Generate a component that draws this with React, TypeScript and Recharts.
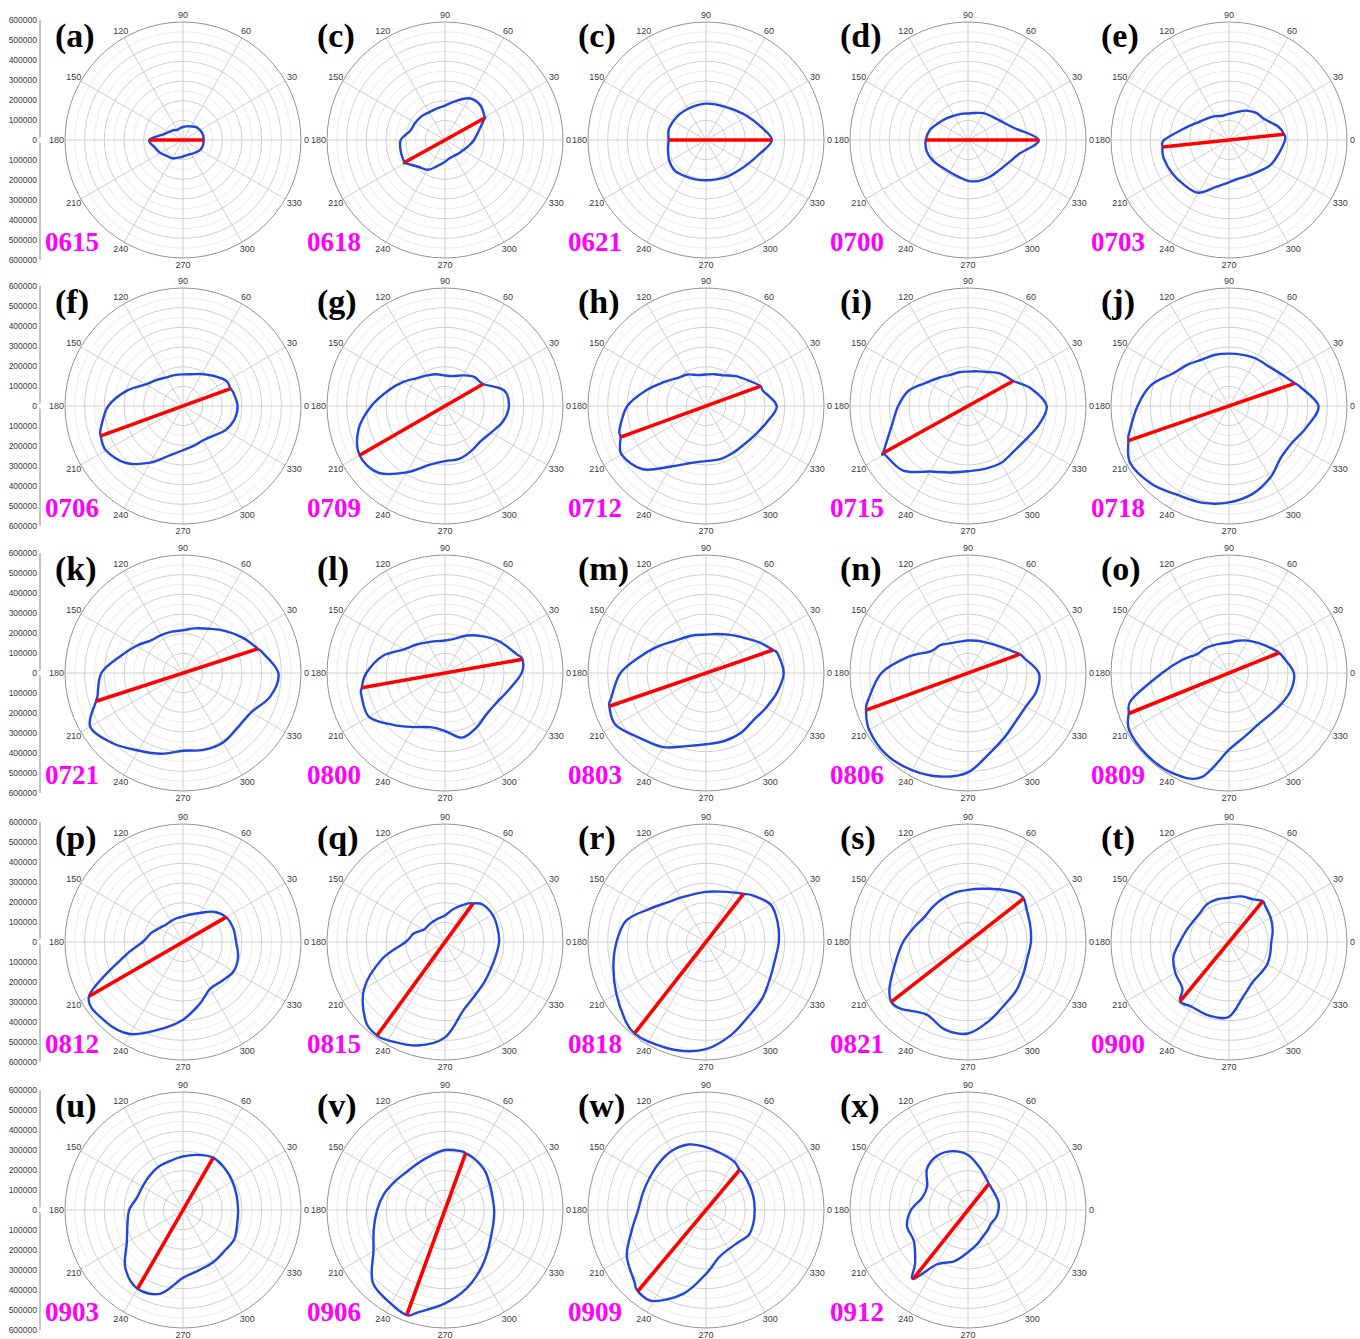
import React from 'react';
import { RadarChart, Radar, PolarGrid, PolarAngleAxis, PolarRadiusAxis, LineChart, Line, YAxis } from 'recharts';

const ANGLES = [0, 15, 30, 45, 60, 75, 90, 105, 120, 135, 150, 165, 180, 195, 210, 225, 240, 255, 270, 285, 300, 315, 330, 345];
const ANGLE_TICKS = [0, 30, 60, 90, 120, 150, 180, 210, 240, 270, 300, 330];
const RADIAL_TICKS = [-600000, -500000, -400000, -300000, -200000, -100000, 0, 100000, 200000, 300000, 400000, 500000, 600000];

const PANEL_LABELS = ['(a)', '(c)', '(c)', '(d)', '(e)', '(f)', '(g)', '(h)', '(i)', '(j)', '(k)', '(l)', '(m)', '(n)', '(o)', '(p)', '(q)', '(r)', '(s)', '(t)', '(u)', '(v)', '(w)', '(x)'];
const DATES = ['0615', '0618', '0621', '0700', '0703', '0706', '0709', '0712', '0715', '0718', '0721', '0800', '0803', '0806', '0809', '0812', '0815', '0818', '0821', '0900', '0903', '0906', '0909', '0912'];

// blue contour radius at every 15 degrees
const FLOW_0615 = [105000, 105000, 100000, 93000, 80000, 72000, 66000, 62000, 60000, 70000, 82000, 107000, 175000, 148000, 133000, 115000, 108000, 93000, 84000, 80000, 82000, 90000, 101000, 105000];
const FLOW_0618 = [147500, 177500, 233000, 252500, 245000, 205000, 175000, 165000, 162500, 170000, 175000, 182500, 225000, 232500, 235000, 192500, 175000, 135000, 110000, 95000, 92500, 97500, 105000, 122500];
const FLOW_0621 = [335000, 282500, 242500, 212500, 195000, 187500, 185000, 182500, 183500, 187500, 191500, 196500, 190000, 200000, 215000, 222500, 212500, 207500, 205000, 207500, 215000, 225000, 245000, 280000];
const FLOW_0700 = [360000, 240000, 192500, 170000, 157500, 142500, 135000, 137500, 142500, 155000, 172500, 200000, 215000, 217500, 207500, 192500, 187500, 192500, 207500, 215000, 217500, 220000, 235000, 270000];
const FLOW_0703 = [285000, 260000, 210000, 195000, 172500, 146500, 132500, 127500, 140000, 155000, 180000, 232500, 330000, 345000, 335000, 322500, 310000, 245000, 215000, 202500, 207500, 222500, 247500, 262500];
const FLOW_0706 = [277500, 265000, 255000, 217500, 187500, 167500, 161000, 162500, 168500, 187500, 220000, 297500, 380000, 432500, 452000, 410000, 332500, 260000, 225000, 210000, 202500, 215000, 247500, 270000];
const FLOW_0709 = [325000, 310000, 230000, 210000, 180000, 157500, 155000, 167500, 180000, 200000, 245000, 300000, 375000, 455000, 500000, 480000, 390000, 310000, 280000, 278500, 265000, 255000, 270000, 305000];
const FLOW_0712 = [360000, 300000, 255000, 215000, 180000, 167500, 160000, 162500, 185000, 202500, 245000, 312500, 400000, 455000, 495000, 455000, 355000, 300000, 280000, 280000, 275000, 275000, 290000, 320000];
const FLOW_0715 = [400000, 335000, 260000, 232500, 200000, 182500, 175000, 177500, 182500, 205000, 240000, 310000, 355000, 402500, 490000, 465000, 385000, 350000, 331500, 331000, 335000, 327500, 340000, 372500];
const FLOW_0718 = [455000, 375000, 315000, 285000, 277500, 269000, 266500, 270000, 273000, 297500, 330000, 410000, 465000, 525000, 580000, 558500, 522500, 510000, 490000, 462500, 420000, 372500, 371500, 410000];
const FLOW_0721 = [485000, 415000, 355000, 302500, 260000, 235000, 217500, 217500, 222500, 233500, 275000, 330000, 415000, 450000, 545000, 505000, 455000, 425000, 395000, 405000, 407500, 392500, 400000, 460000];
const FLOW_0800 = [390000, 375000, 320000, 265000, 220000, 180000, 165000, 167500, 180000, 205000, 240000, 330000, 400000, 440000, 446000, 372500, 317500, 285000, 295000, 340000, 320000, 297500, 302500, 335000];
const FLOW_0803 = [395000, 377500, 312500, 257500, 225000, 205000, 195000, 200000, 210000, 230000, 275000, 340000, 435000, 500000, 530000, 470000, 435000, 385000, 362500, 358000, 352500, 340000, 352500, 375000];
const FLOW_0806 = [360000, 295000, 237500, 200000, 180000, 170000, 165000, 165000, 175000, 200000, 220000, 315000, 440000, 525000, 580000, 587500, 570000, 545000, 505000, 422500, 375000, 345000, 340000, 360000];
const FLOW_0809 = [330000, 290000, 250000, 215000, 190000, 170000, 155000, 155000, 162500, 175000, 190000, 250000, 340000, 510000, 585000, 590000, 585000, 550000, 390000, 330000, 300000, 297500, 310000, 327500];
const FLOW_0812 = [270000, 265000, 253000, 217500, 170000, 145000, 130000, 125000, 122500, 124000, 140000, 170000, 205000, 320000, 550000, 565000, 540000, 460000, 395000, 326500, 275000, 280000, 297500, 290000];
const FLOW_0815 = [275000, 276500, 279000, 270000, 225000, 175000, 135000, 125000, 120000, 120000, 125000, 165000, 200000, 330000, 475000, 570000, 577500, 545000, 485000, 360000, 310000, 285000, 270000, 267500];
const FLOW_0818 = [370000, 377500, 380000, 335000, 290000, 265000, 255000, 251000, 260000, 282500, 335000, 420000, 455000, 487500, 526500, 575000, 585000, 570000, 545000, 490000, 435000, 405000, 375000, 362500];
const FLOW_0821 = [320000, 327500, 342500, 352500, 310000, 280000, 265000, 260000, 255000, 253000, 255000, 285000, 330000, 380000, 460000, 481000, 425000, 460000, 465000, 415000, 370000, 347500, 325000, 312500];
const FLOW_0900 = [215000, 230000, 245000, 260000, 250000, 240000, 225000, 225000, 222500, 208500, 210000, 225000, 250000, 292500, 315000, 335000, 380000, 387500, 380000, 285000, 237500, 226500, 225000, 217500];
const FLOW_0903 = [280000, 282500, 290000, 300000, 307500, 290000, 272500, 257500, 252500, 242500, 237500, 242500, 273500, 292500, 330000, 415000, 462500, 440000, 345000, 316500, 306500, 296500, 300000, 285000];
const FLOW_0906 = [250000, 250000, 262500, 285000, 300000, 310000, 305000, 285000, 275000, 275000, 292500, 320000, 345000, 375000, 420000, 520000, 550000, 540000, 475000, 415000, 355000, 305000, 270000, 255000];
const FLOW_0909 = [247500, 250000, 255000, 265000, 285000, 297500, 320000, 345000, 347500, 337500, 330000, 332500, 345000, 390000, 465000, 515000, 535000, 440000, 325000, 250000, 230000, 232500, 252500, 250000];
const FLOW_0912 = [155000, 160000, 159000, 165000, 185000, 225000, 280000, 310000, 316500, 295000, 240000, 241000, 290000, 321000, 317500, 380000, 320000, 270000, 215000, 180000, 154000, 142500, 136000, 147500];

const FLOWS = [FLOW_0615, FLOW_0618, FLOW_0621, FLOW_0700, FLOW_0703, FLOW_0706, FLOW_0709, FLOW_0712, FLOW_0715, FLOW_0718, FLOW_0721, FLOW_0800, FLOW_0803, FLOW_0806, FLOW_0809, FLOW_0812, FLOW_0815, FLOW_0818, FLOW_0821, FLOW_0900, FLOW_0903, FLOW_0906, FLOW_0909, FLOW_0912];

// red major axis: direction (deg), length toward direction, length toward opposite direction
const MAJOR_ANGLE = [0, 29, 0, 0, 6, 20, 30, 20, 29, 19, 18, 10, 19, 20, 22, 30, 54, 52, 38, 50.5, 60, 70, 50, 51.5];
const MAJOR_R1 = [105000, 231000, 335000, 360000, 281500, 257500, 224000, 295500, 262000, 354000, 400000, 400000, 360000, 280000, 275000, 253000, 243000, 310000, 360000, 270000, 307500, 307500, 266000, 170000];
const MAJOR_R2 = [172000, 236000, 190000, 215000, 340000, 445000, 501500, 462500, 493000, 541000, 465000, 430000, 520000, 552000, 550000, 551500, 588000, 590000, 495000, 391000, 462500, 568500, 539500, 448000];

const COL_X = [183, 445, 706, 968, 1229];
const ROW_Y = [140, 406, 673, 942, 1210];
const R_OUT = 118;
const MAJOR_RADII = [2, 4, 6, 8, 10].map((k) => (R_OUT * k) / 12);
const MINOR_RADII = [1, 3, 5, 7, 9, 11].map((k) => (R_OUT * k) / 12);

type Row = { angle: number; flow: number; major?: number };

function buildRows(i: number): Row[] {
  const a1 = MAJOR_ANGLE[i];
  const a2 = (a1 + 180) % 360;
  const rows: Row[] = [];
  ANGLES.forEach((a, k) => {
    if (Math.abs(a - a1) < 0.5 || Math.abs(a - a2) < 0.5) return;
    rows.push({ angle: a, flow: FLOWS[i][k] });
  });
  rows.push({ angle: a1, flow: MAJOR_R1[i], major: MAJOR_R1[i] });
  rows.push({ angle: a2, flow: MAJOR_R2[i], major: MAJOR_R2[i] });
  rows.sort((p, q) => p.angle - q.angle);
  return rows;
}

function closedSpline(pts: { x: number; y: number }[]): string {
  const n = pts.length;
  if (n < 3) return '';
  let d = `M${pts[0].x},${pts[0].y}`;
  for (let i = 0; i < n; i++) {
    const p0 = pts[(i - 1 + n) % n];
    const p1 = pts[i];
    const p2 = pts[(i + 1) % n];
    const p3 = pts[(i + 2) % n];
    const c1x = p1.x + (p2.x - p0.x) / 6;
    const c1y = p1.y + (p2.y - p0.y) / 6;
    const c2x = p2.x - (p3.x - p1.x) / 6;
    const c2y = p2.y - (p3.y - p1.y) / 6;
    d += ` C${c1x},${c1y} ${c2x},${c2y} ${p2.x},${p2.y}`;
  }
  return d + 'Z';
}

const finitePts = (props: any) =>
  ((props && props.points) || []).filter((p: any) => Number.isFinite(p.x) && Number.isFinite(p.y));

const BlueShape = (props: any) => {
  const pts = finitePts(props);
  return <path d={closedSpline(pts)} fill="none" stroke="#1f45e3" strokeWidth={2.4} strokeLinejoin="round" />;
};

const RedShape = (props: any) => {
  const pts = finitePts(props).filter((p: any) => p.payload && p.payload.major != null);
  if (pts.length < 2) return <g />;
  return <line x1={pts[0].x} y1={pts[0].y} x2={pts[1].x} y2={pts[1].y} stroke="#ff0000" strokeWidth={3.6} />;
};

const LABEL_FONT = 9;
const AngleTick = (props: any) => {
  const { x, y, payload } = props;
  const label = String(payload.value);
  const a = (Number(payload.value) * Math.PI) / 180;
  const c = Math.cos(a);
  const w = label.length * LABEL_FONT * 0.556;
  const h = LABEL_FONT * 0.75;
  const tx = x + (w / 2) * c + (c < -0.1 ? 2 : 0);
  const ty = y - (h / 2 + 1) * Math.sin(a);
  return (
    <text x={tx} y={ty} textAnchor="middle" dominantBaseline="central" fontSize={LABEL_FONT} fill="#3a3a3a" fontFamily="'Liberation Sans', Arial, sans-serif">
      {label}
    </text>
  );
};

const W = 284;
const H = 280;

function Panel({ i }: { i: number }) {
  const cx = COL_X[i % 5];
  const cy = ROW_Y[Math.floor(i / 5)];
  const rows = buildRows(i);
  return (
    <>
      <div style={{ position: 'absolute', left: cx - W / 2, top: cy - H / 2, width: W, height: H }}>
        <RadarChart width={W} height={H} data={rows} cx={W / 2} cy={H / 2} outerRadius={R_OUT} innerRadius={0} startAngle={0} endAngle={360} margin={{ top: 0, right: 0, bottom: 0, left: 0 }}>
          <PolarGrid gridType="circle" polarRadius={MINOR_RADII} polarAngles={[]} radialLines={false} stroke="#ececec" />
          <PolarGrid gridType="circle" polarRadius={MAJOR_RADII} polarAngles={ANGLE_TICKS} stroke="#d0d0d0" />
          <PolarAngleAxis dataKey="angle" type="number" domain={[0, 360]} ticks={ANGLE_TICKS as any} tick={AngleTick} tickLine={false} tickSize={3} axisLineType="circle" axisLine={{ stroke: '#949494' }} />
          <PolarRadiusAxis type="number" domain={[0, 600000]} allowDataOverflow tick={false} axisLine={false} />
          <Radar dataKey="flow" shape={BlueShape} isAnimationActive={false} dot={false} />
          <Radar dataKey="major" shape={RedShape} isAnimationActive={false} dot={false} />
        </RadarChart>
      </div>
      <div style={{ position: 'absolute', left: cx - 128, top: cy - 121, fontFamily: "'Liberation Serif', 'Times New Roman', serif", fontWeight: 'bold', fontSize: 34, lineHeight: 1, color: '#000' }}>
        {PANEL_LABELS[i]}
      </div>
      <div style={{ position: 'absolute', left: cx - 138, top: cy + 89, fontFamily: "'Liberation Serif', 'Times New Roman', serif", fontWeight: 'bold', fontSize: 27, lineHeight: 1, color: '#ff00ff' }}>
        {DATES[i]}
      </div>
    </>
  );
}

function LeftAxis({ cy }: { cy: number }) {
  const h = 2 * 120 + 12;
  return (
    <div style={{ position: 'absolute', left: 0, top: cy - 120 - 6, width: 50, height: h }}>
      <LineChart width={50} height={h} data={[{ y: 0 }]} margin={{ top: 6, right: 6, bottom: 6, left: 0 }}>
        <YAxis
          dataKey="y"
          type="number"
          domain={[-600000, 600000]}
          ticks={RADIAL_TICKS}
          interval={0}
          allowDataOverflow
          tickFormatter={(v: number) => String(Math.abs(v))}
          width={40}
          tickLine={false}
          tickSize={0}
          tickMargin={3}
          axisLine={{ stroke: '#8a8a8a' }}
          tick={{ fontSize: 8.5, fill: '#3a3a3a', fontFamily: "'Liberation Sans', Arial, sans-serif" }}
        />
        <Line dataKey="y" stroke="none" dot={false} isAnimationActive={false} />
      </LineChart>
    </div>
  );
}

export default function App() {
  return (
    <div style={{ position: 'absolute', left: 0, top: 0, width: 1360, height: 1339, background: '#fff', overflow: 'hidden' }}>
      {ROW_Y.map((cy) => (
        <LeftAxis key={'ax' + cy} cy={cy} />
      ))}
      {FLOWS.map((_, i) => (
        <Panel key={i} i={i} />
      ))}
    </div>
  );
}
